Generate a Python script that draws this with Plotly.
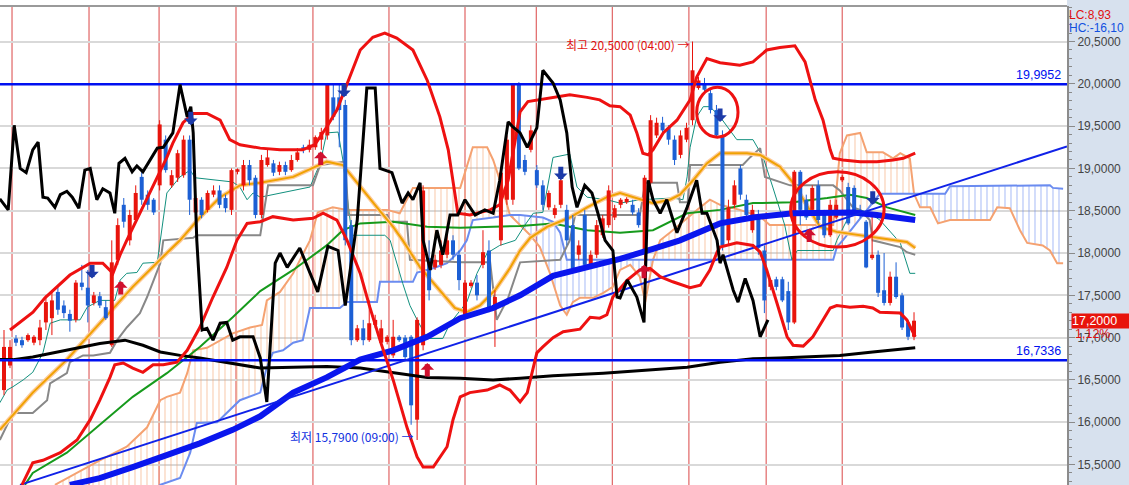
import plotly.graph_objects as go

# ---------------- candle data (index 0..152) ----------------
opens = [16.38, 16.67, 16.99, 16.97, 16.97, 16.94, 16.97, 17.18, 17.23, 17.54,
         17.38, 17.28, 17.21, 17.65, 17.59, 17.41, 17.49, 17.36, 16.91, 17.92,
         18.57, 18.15, 18.39, 18.90, 18.69, 18.63, 18.80, 19.34, 18.80, 18.89,
         18.92, 19.34, 18.48, 18.63, 18.51, 18.69, 18.74, 18.65, 18.51, 18.96,
         18.80, 19.04, 18.89, 18.45, 19.04, 19.06, 18.96, 19.04, 18.98, 19.10,
         19.25, 19.22, 19.25, 19.34, 19.39, 19.84, 19.84, 19.75, 18.33, 16.97,
         17.11, 16.97, 17.15, 16.94, 16.95, 16.79, 17.01, 17.00, 17.01, 16.03,
         16.91, 17.94, 17.83, 17.86, 17.98, 18.15, 17.98, 17.27, 17.61, 17.65,
         17.86, 18.03, 17.33, 18.15, 18.63, 18.63, 20.00, 19.10, 19.22, 18.98,
         18.80, 18.54, 18.45, 18.57, 18.51, 18.33, 17.98, 18.45, 17.86, 17.98,
         18.21, 18.33, 18.42, 18.57, 18.60, 18.57, 18.48, 18.03, 18.83, 19.39,
         19.54, 19.48, 19.34, 19.16, 19.34, 19.57, 19.95, 19.99, 19.89, 19.69,
         19.39, 18.15, 18.57, 19.00, 18.63, 18.27, 18.45, 18.03, 17.60, 17.69,
         17.69, 17.55, 17.18, 18.96, 18.63, 18.51, 18.80, 18.48, 18.21, 18.42,
         18.86, 18.78, 18.77, 18.51, 18.37, 17.94, 17.98, 17.56, 17.41, 17.72,
         17.50, 17.18, 17.01]
closes = [16.89, 16.89, 16.94, 16.91, 17.03, 17.01, 17.12, 17.42, 17.44, 17.33,
          17.29, 17.20, 17.65, 17.60, 17.38, 17.50, 17.38, 17.23, 17.89, 18.33,
          18.37, 18.45, 18.71, 18.63, 18.57, 18.48, 19.52, 18.98, 18.92, 19.18,
          19.34, 18.63, 18.65, 18.45, 18.71, 18.74, 18.57, 18.53, 18.98, 18.99,
          19.04, 18.86, 18.45, 19.10, 19.13, 18.95, 19.04, 18.96, 19.10, 19.19,
          19.22, 19.28, 19.37, 19.43, 19.99, 19.61, 19.69, 18.15, 16.97, 17.11,
          16.97, 17.17, 17.21, 17.11, 17.01, 17.01, 16.97, 16.77, 16.20, 17.21,
          18.74, 17.56, 17.92, 18.03, 18.15, 17.98, 17.68, 17.65, 17.65, 17.50,
          18.01, 17.36, 17.48, 18.95, 19.34, 19.99, 19.00, 18.96, 19.45, 18.80,
          18.57, 18.71, 18.53, 18.86, 18.15, 17.82, 18.09, 17.86, 17.98, 18.33,
          18.41, 18.74, 18.53, 18.63, 18.64, 18.48, 18.33, 18.89, 19.57, 19.54,
          19.45, 19.34, 19.10, 19.39, 19.48, 20.16, 20.04, 19.93, 19.69, 19.39,
          18.09, 18.54, 18.80, 18.69, 18.45, 18.51, 18.06, 17.44, 17.68, 17.60,
          17.44, 17.18, 18.96, 18.51, 18.42, 18.77, 18.39, 18.21, 18.57, 18.57,
          18.90, 18.35, 18.47, 18.45, 17.83, 17.98, 17.53, 17.41, 17.72, 17.48,
          17.12, 17.01, 17.20]
highs = [17.09, 16.97, 17.03, 17.01, 17.05, 17.03, 17.21, 17.50, 17.56, 17.62,
         17.44, 17.33, 17.68, 17.86, 17.80, 17.54, 17.54, 17.44, 18.15, 18.41,
         18.65, 18.51, 18.80, 18.96, 18.74, 18.65, 19.57, 19.39, 18.98, 19.22,
         19.39, 19.39, 18.69, 18.66, 18.74, 18.80, 18.80, 18.69, 19.00, 19.00,
         19.10, 19.10, 18.92, 19.16, 19.22, 19.10, 19.08, 19.08, 19.16, 19.24,
         19.28, 19.34, 19.39, 19.48, 20.01, 19.99, 19.99, 19.81, 18.39, 17.15,
         17.21, 17.44, 17.27, 17.21, 17.03, 17.21, 17.03, 17.03, 17.03, 17.24,
         18.80, 18.15, 17.98, 18.15, 18.27, 18.21, 18.03, 17.68, 17.68, 17.74,
         18.27, 18.15, 17.56, 18.98, 19.39, 20.00, 20.02, 19.16, 19.51, 19.04,
         18.86, 18.74, 18.57, 18.92, 18.57, 18.45, 18.15, 18.51, 18.03, 18.39,
         18.45, 18.80, 18.57, 18.65, 18.66, 18.63, 18.53, 18.92, 19.63, 19.60,
         19.61, 19.51, 19.39, 19.45, 19.54, 20.50, 20.08, 20.07, 19.93, 19.75,
         19.45, 18.63, 18.86, 19.04, 18.69, 18.57, 18.51, 18.09, 17.70, 17.72,
         17.72, 17.66, 18.98, 18.98, 18.69, 18.80, 18.86, 18.51, 18.63, 18.63,
         18.92, 18.83, 18.80, 18.57, 18.39, 18.48, 18.03, 18.00, 17.78, 17.89,
         17.53, 17.21, 17.30]
lows = [16.32, 16.64, 16.90, 16.88, 16.95, 16.91, 16.91, 17.09, 17.03, 17.27,
        17.23, 17.07, 17.18, 17.56, 17.18, 17.38, 17.35, 17.21, 16.89, 17.86,
        18.30, 18.09, 18.37, 18.57, 18.51, 18.45, 18.74, 18.95, 18.77, 18.84,
        18.89, 18.45, 18.45, 18.41, 18.48, 18.66, 18.53, 18.48, 18.45, 18.93,
        18.74, 18.80, 18.41, 18.41, 19.02, 18.91, 18.92, 18.92, 18.96, 19.08,
        19.18, 19.19, 19.22, 19.22, 19.34, 19.57, 19.25, 18.09, 16.91, 16.95,
        16.91, 16.95, 17.11, 16.91, 16.92, 16.76, 16.95, 16.74, 15.97, 15.79,
        16.85, 17.44, 17.80, 17.82, 17.94, 17.92, 17.56, 17.23, 17.59, 17.44,
        17.82, 17.30, 16.89, 18.09, 18.57, 18.57, 18.98, 18.92, 19.19, 18.77,
        18.51, 18.51, 18.41, 18.53, 18.09, 17.80, 17.92, 17.82, 17.82, 17.94,
        18.18, 18.30, 18.39, 18.53, 18.58, 18.45, 18.30, 17.86, 18.80, 19.36,
        19.42, 19.28, 19.04, 19.12, 19.31, 19.51, 19.93, 19.90, 19.65, 19.36,
        18.03, 18.09, 18.53, 18.63, 18.39, 18.24, 17.98, 17.29, 17.56, 17.56,
        17.42, 17.09, 17.16, 18.33, 18.39, 18.48, 18.35, 18.18, 18.19, 18.40,
        18.84, 18.33, 18.45, 18.41, 17.82, 17.92, 17.48, 17.38, 17.38, 17.46,
        17.09, 16.97, 16.97]

# ---------------- indicator lines (x = bar index, y = price) ----------------
bb_up_x = [1.0, 2.67, 4.84, 6.85, 8.85, 11.0, 14.4, 16.5, 18.2, 19.4, 20.5, 22.7, 24.9, 27.2, 28.2, 29.9,
           31.6, 33.9, 36.1, 37.7, 39.4, 42.8, 46.1, 49.9, 51.9, 53.9, 55.6, 57.3, 59.5, 61.6, 63.6, 65.6,
           68.3, 70.7, 72.8, 74.2, 75.0, 75.8, 77.8, 81.2, 82.8, 84.2, 85.4, 86.2, 87.5, 91.7, 94.5, 97.4,
           99.5, 101.2, 102.9, 104.6, 105.7, 106.7, 107.6, 108.4, 110.1, 112.4, 114.6, 115.7, 117.4, 119.6,
           122.9, 125.1, 127.4, 129.6, 132.1, 133.8, 135.5, 136.8, 138.0, 138.5, 140.1, 143.0, 145.8, 148.5,
           150.2, 152.2]
bb_up_y = [17.09, 17.18, 17.30, 17.47, 17.60, 17.74, 17.88, 17.88, 17.76, 17.98, 18.15, 18.47, 18.78, 19.13,
           19.30, 19.54, 19.65, 19.65, 19.57, 19.34, 19.28, 19.24, 19.22, 19.22, 19.28, 19.49, 19.69, 20.01,
           20.40, 20.55, 20.60, 20.54, 20.40, 20.04, 19.61, 19.22, 18.83, 18.47, 18.45, 18.51, 18.57, 18.86,
           19.34, 19.67, 19.79, 19.84, 19.87, 19.84, 19.81, 19.74, 19.73, 19.63, 19.42, 19.18, 19.16, 19.22,
           19.42, 19.57, 19.81, 20.08, 20.30, 20.25, 20.22, 20.26, 20.40, 20.43, 20.45, 20.26, 19.81, 19.57,
           19.22, 19.12, 19.10, 19.08, 19.08, 19.10, 19.12, 19.18]

bb_lo_x = [3.0, 4.8, 6.5, 9.4, 12.2, 14.4, 16.0, 17.7, 18.5, 19.9, 21.5, 23.2, 24.9, 26.6, 28.9, 30.6, 32.7,
           34.9, 37.2, 38.9, 40.6, 42.8, 44.9, 48.3, 51.6, 53.3, 55.6, 57.3, 59.5, 61.1, 62.8, 65.0, 67.3,
           69.0, 70.0, 71.7, 74.0, 75.0, 76.2, 77.8, 80.7, 82.8, 84.5, 86.2, 87.4, 89.0, 90.0, 91.7, 93.4,
           96.2, 97.9, 99.5, 100.7, 101.7, 104.1, 106.2, 107.9, 109.6, 111.7, 114.6, 116.3, 117.9, 119.1,
           119.6, 122.4, 125.1, 126.3, 127.4, 129.1, 130.8, 131.8, 133.5, 135.1, 138.0, 139.1, 141.3, 143.5,
           145.1, 146.3, 149.7, 150.8, 152.2]
bb_lo_y = [15.26, 15.52, 15.55, 15.64, 15.79, 16.03, 16.26, 16.53, 16.68, 16.70, 16.64, 16.59, 16.68, 16.68,
           16.71, 16.85, 17.12, 17.48, 17.83, 18.15, 18.35, 18.37, 18.43, 18.39, 18.41, 18.47, 18.39, 18.15,
           17.76, 17.36, 16.97, 16.50, 15.94, 15.59, 15.47, 15.47, 15.71, 16.03, 16.30, 16.35, 16.38, 16.44,
           16.38, 16.24, 16.35, 16.82, 16.89, 17.00, 17.07, 17.10, 17.24, 17.23, 17.27, 17.48, 17.68, 17.80,
           17.82, 17.72, 17.66, 17.59, 17.62, 17.80, 18.01, 18.07, 18.12, 18.09, 18.01, 17.80, 17.41, 17.01,
           16.91, 16.90, 17.01, 17.35, 17.38, 17.36, 17.37, 17.35, 17.30, 17.29, 17.21, 17.01]

osc_x = [-0.7, 0.7, 1.7, 2.7, 3.7, 4.8, 5.7, 6.5, 7.3, 8.5, 9.4, 10.5, 11.4, 12.5, 13.5, 14.4, 15.5, 16.5,
         17.7, 18.5, 19.2, 20.2, 21.4, 22.2, 23.2, 25.6, 26.6, 28.2, 29.4, 30.6, 31.2, 31.6, 32.2, 33.1,
         33.9, 34.9, 36.1, 37.2, 38.2, 39.4, 41.6, 42.8, 43.9, 45.3, 46.1, 47.3, 49.4, 52.4, 54.1, 55.8,
         57.0, 59.0, 60.6, 62.0, 62.8, 64.8, 66.5, 67.5, 68.3, 69.5, 70.0, 71.2, 72.3, 73.3, 74.5, 75.8,
         77.0, 78.7, 80.3, 81.7, 82.8, 84.2, 85.0, 86.2, 87.4, 89.0, 90.0, 91.7, 92.9, 94.0, 94.9, 95.7,
         97.0, 98.2, 99.2, 100.4, 101.7, 102.4, 102.9, 104.1, 105.7, 106.9, 107.6, 108.4, 109.6, 110.7,
         112.4, 114.1, 115.7, 116.6, 117.4, 119.1, 119.6, 120.1, 121.8, 122.6, 123.8, 125.1, 126.3, 127.6]
osc_y = [18.64, 18.51, 19.51, 19.00, 18.95, 19.22, 19.31, 18.66, 18.65, 18.54, 18.69, 18.73, 18.66, 18.53,
         18.98, 19.00, 18.63, 18.76, 18.71, 18.47, 19.06, 19.12, 18.96, 19.03, 18.96, 19.24, 19.25, 19.42,
         19.99, 19.61, 19.73, 19.42, 18.15, 17.09, 17.11, 16.97, 17.17, 17.18, 16.97, 17.01, 17.01, 16.76,
         16.24, 17.88, 18.00, 17.83, 18.06, 17.54, 18.08, 18.03, 17.38, 18.39, 19.95, 19.95, 19.00, 18.95,
         18.59, 18.71, 18.63, 18.83, 18.15, 17.80, 18.27, 17.98, 18.45, 18.45, 18.63, 18.45, 18.51, 18.47,
         18.86, 19.55, 19.49, 19.42, 19.25, 19.48, 20.16, 20.01, 19.81, 19.42, 18.78, 18.54, 18.80, 18.71,
         18.47, 18.15, 18.03, 17.48, 17.47, 17.68, 17.48, 17.18, 18.86, 18.63, 18.47, 18.63, 18.24, 18.54,
         18.86, 18.47, 18.47, 18.15, 17.88, 17.98, 17.56, 17.42, 17.70, 17.44, 17.01, 17.21]

ma_long_x = [-0.7, 1.5, 4.8, 10.5, 16.0, 20.2, 23.2, 26.1, 29.4, 32.7, 37.2, 42.8, 48.3, 53.9, 59.5, 65.0,
             68.3, 70.7, 76.2, 81.7, 86.2, 91.7, 100.1, 108.4, 114.1, 119.6, 125.1, 129.6, 134.1, 139.6,
             145.1, 152.2]
ma_long_y = [16.74, 16.74, 16.77, 16.85, 16.93, 16.97, 16.91, 16.83, 16.79, 16.76, 16.71, 16.64, 16.65, 16.66,
             16.64, 16.59, 16.56, 16.53, 16.52, 16.50, 16.52, 16.55, 16.58, 16.62, 16.65, 16.71, 16.75, 16.76,
             16.77, 16.79, 16.83, 16.88]

ma_blue_x = [11.0, 16.0, 21.5, 27.2, 32.7, 38.2, 42.8, 48.3, 53.9, 59.5, 65.0, 70.7, 76.2, 81.7, 86.2, 91.7,
             97.4, 102.9, 108.4, 112.9, 119.6, 125.1, 131.8, 137.5, 141.8, 145.8, 152.2]
ma_blue_y = [15.26, 15.34, 15.47, 15.61, 15.75, 15.91, 16.07, 16.35, 16.53, 16.74, 16.85, 17.01, 17.23, 17.35,
             17.50, 17.73, 17.83, 17.93, 18.05, 18.15, 18.35, 18.42, 18.47, 18.48, 18.48, 18.45, 18.39]

ma_green_x = [3.5, 4.8, 10.5, 16.0, 21.5, 27.2, 32.7, 38.2, 42.8, 48.3, 53.9, 56.6, 59.5, 65.0, 70.7, 76.2,
              81.7, 86.2, 91.7, 97.4, 102.9, 108.4, 114.1, 119.6, 125.1, 131.8, 137.5, 141.3, 144.1, 147.5, 152.2]
ma_green_y = [15.26, 15.40, 15.64, 15.97, 16.30, 16.58, 16.89, 17.24, 17.55, 17.80, 18.09, 18.27, 18.35, 18.37,
              18.31, 18.30, 18.31, 18.32, 18.35, 18.27, 18.24, 18.27, 18.47, 18.51, 18.59, 18.60, 18.65, 18.69,
              18.65, 18.54, 18.45]

ma_orange_x = [-0.7, 4.8, 10.5, 16.0, 21.5, 27.2, 29.4, 32.7, 36.1, 39.4, 42.8, 48.3, 53.9, 56.6, 59.5, 62.3,
               65.0, 66.6, 69.5, 72.8, 75.3, 77.3, 79.5, 82.0, 84.5, 86.2, 87.9, 90.7, 94.5, 97.4, 100.7, 102.9,
               105.7, 108.4, 111.2, 112.9, 115.1, 117.4, 119.6, 124.1, 126.3, 129.6, 131.8, 134.6, 136.3, 139.1,
               143.0, 148.5, 150.8, 152.2]
ma_orange_y = [15.91, 16.35, 16.74, 17.17, 17.60, 18.00, 18.15, 18.42, 18.66, 18.80, 18.83, 18.90, 19.08, 19.04,
               18.78, 18.54, 18.31, 18.15, 17.83, 17.56, 17.35, 17.30, 17.38, 17.56, 17.82, 18.03, 18.18, 18.31,
               18.42, 18.54, 18.66, 18.71, 18.65, 18.59, 18.63, 18.69, 18.86, 19.06, 19.18, 19.18, 19.16, 19.02,
               18.83, 18.51, 18.31, 18.25, 18.21, 18.15, 18.13, 18.06]

kijun_x = [-0.7, 1.5, 4.8, 7.2, 7.7, 9.4, 10.5, 11.0, 13.2, 14.9, 17.7, 18.9, 20.5, 22.7, 23.9, 26.1, 26.6,
           31.6, 32.2, 42.8, 44.1, 51.6, 52.8, 57.0, 57.5, 64.0, 64.5, 67.3, 67.8, 76.2, 81.2, 82.3, 84.2,
           86.2, 92.9, 94.5, 95.4, 106.2, 107.1, 112.4, 112.9, 114.2, 114.6, 123.4, 124.6, 126.3, 127.1,
           131.3, 138.5, 139.6, 141.8, 143.0, 144.6, 145.1, 149.7, 150.8, 152.2]
kijun_y = [15.79, 16.11, 16.11, 16.26, 16.46, 16.53, 16.58, 16.71, 16.79, 16.79, 16.82, 16.97, 17.12, 17.29,
           17.48, 17.88, 18.15, 18.18, 18.21, 18.21, 18.80, 18.80, 19.04, 19.08, 18.45, 18.45, 18.37, 18.37,
           17.92, 17.89, 17.89, 17.21, 17.47, 17.89, 17.92, 18.15, 18.45, 18.45, 18.83, 18.83, 18.60, 18.60,
           19.04, 19.04, 19.13, 19.24, 18.90, 18.80, 18.80, 18.74, 18.54, 18.51, 18.39, 18.15, 18.07, 18.01, 17.98]

tenkan_x = [-0.7, 0.5, 1.5, 3.2, 4.8, 5.5, 6.5, 7.7, 9.4, 12.7, 13.9, 16.0, 18.5, 19.4, 20.5, 22.2, 23.2, 25.6,
            26.1, 27.2, 29.4, 31.1, 31.9, 38.2, 39.4, 40.6, 41.6, 42.8, 51.1, 52.8, 53.9, 55.8, 56.6, 57.8,
            58.1, 63.6, 64.5, 66.6, 67.8, 69.0, 70.7, 73.3, 74.5, 77.3, 79.0, 80.7, 82.8, 85.4, 87.0, 88.4,
            90.0, 91.7, 94.5, 95.7, 97.4, 100.7, 102.9, 106.2, 111.7, 113.4, 114.1, 114.6, 115.7, 116.8, 117.9,
            119.6, 122.4, 125.1, 126.8, 128.4, 130.4, 131.6, 132.5, 138.5, 139.1, 140.8, 141.8, 143.0, 144.6,
            146.3, 149.7, 151.3, 152.2]
tenkan_y = [16.23, 16.38, 16.42, 16.50, 16.59, 16.68, 16.82, 17.17, 17.21, 17.21, 17.36, 17.44, 17.44, 17.68,
            17.76, 17.77, 17.88, 17.89, 18.15, 18.71, 18.90, 18.98, 18.89, 18.84, 18.78, 18.63, 18.71, 18.66,
            18.78, 19.06, 19.42, 19.43, 19.10, 18.42, 18.21, 18.21, 18.15, 17.64, 17.38, 17.21, 16.99, 16.99,
            17.17, 17.42, 17.76, 18.00, 18.09, 18.15, 18.33, 18.47, 18.48, 19.13, 19.17, 18.78, 18.66, 18.63,
            18.59, 18.63, 18.65, 18.63, 18.90, 19.25, 19.61, 19.73, 19.73, 19.61, 19.34, 19.34, 19.13, 18.78,
            18.33, 17.92, 18.03, 18.03, 18.15, 18.39, 18.51, 18.51, 18.47, 18.39, 18.12, 17.76, 17.76]

span_a_x = [8.5, 16.0, 20.5, 23.9, 26.1, 27.2, 29.4, 30.6, 31.6, 33.9, 38.2, 41.1, 43.1, 43.9, 46.1, 48.3,
            51.1, 52.4, 54.9, 57.3, 64.0, 66.1, 68.3, 76.2, 78.3, 80.7, 81.7, 83.2, 84.5, 87.9, 89.5, 91.2,
            92.9, 94.0, 95.0, 96.2, 98.4, 100.1, 101.7, 102.9, 104.6, 106.2, 107.1, 107.9, 108.4, 109.6, 111.2,
            116.3, 117.9, 119.6, 122.9, 126.3, 127.9, 131.3, 138.5, 139.6, 140.8, 143.0, 144.1, 146.8, 148.5,
            149.7, 151.3, 152.0, 153.0, 154.7, 156.0, 158.0, 164.7, 165.9, 168.0, 169.7, 170.9, 173.5, 174.7,
            175.9, 176.9]
span_a_y = [15.26, 15.55, 15.71, 15.94, 16.26, 16.30, 16.35, 16.58, 16.85, 16.88, 17.05, 17.12, 17.15, 17.44,
            17.54, 17.76, 18.15, 18.48, 18.54, 18.51, 18.51, 18.47, 18.77, 18.77, 19.25, 19.25, 19.10, 18.78,
            18.45, 18.21, 18.07, 17.76, 17.38, 17.27, 17.42, 17.47, 17.47, 17.53, 17.60, 17.80, 17.86, 17.72,
            17.42, 17.76, 17.92, 18.15, 18.24, 18.54, 18.63, 18.57, 18.51, 18.43, 18.33, 18.33, 18.33, 19.18,
            19.39, 19.42, 19.19, 19.19, 19.12, 19.18, 19.12, 18.70, 18.54, 18.54, 18.35, 18.39, 18.39, 18.54,
            18.53, 18.27, 18.12, 18.09, 18.03, 17.88, 17.88]
span_b_x = [8.5, 25.2, 26.1, 29.4, 31.1, 32.2, 35.6, 37.7, 39.4, 42.8, 43.9, 44.9, 46.6, 48.3, 49.9, 51.1,
            56.1, 57.3, 62.3, 62.8, 68.3, 69.0, 71.7, 74.0, 76.2, 77.3, 78.3, 81.7, 84.5, 86.2, 90.0, 91.7,
            92.9, 94.0, 108.4, 138.5, 139.1, 140.1, 145.5, 146.3, 152.0, 157.2, 158.0, 174.7, 175.2, 176.9]
span_b_y = [15.00, 15.00, 15.26, 15.34, 15.64, 15.99, 16.00, 16.14, 16.26, 16.35, 16.65, 16.82, 16.85, 16.94,
            16.97, 17.35, 17.35, 17.42, 17.42, 17.66, 17.66, 17.77, 17.82, 17.88, 18.03, 18.15, 18.39, 18.42,
            18.45, 18.45, 18.42, 18.37, 18.24, 17.92, 17.92, 17.92, 18.07, 18.15, 18.63, 18.70, 18.70, 18.70,
            18.79, 18.80, 18.77, 18.76]
cloud_cross = [8.5, 84.5, 108.4, 152.0, 176.9]          # where span A and span B swap
cloud_kind = ["up", "down", "up", "down"]

# levels, trend line, signals, marks
level_lines = [19.9952, 16.7336]
trend_x = [2.67, 177.55]
trend_y = [15.26, 19.26]
day_breaks = [1.34, 14.2, 25.9, 38.75, 51.6, 64.3, 77.0, 88.9, 101.6, 114.4, 127.3, 140.0]
sig_dn_x = [14.7, 31.2, 56.8, 93.0, 119.6, 145.1]
sig_dn_y = [17.70, 19.51, 19.84, 18.86, 19.55, 18.57]
sig_up_x = [19.5, 52.9, 70.7, 106.9, 134.5]
sig_up_y = [17.67, 19.20, 16.70, 17.86, 18.29]
ell_x0 = [115.7, 131.4]
ell_x1 = [122.6, 147.0]
ell_y0 = [19.37, 18.07]
ell_y1 = [19.96, 18.96]
high_time = "04:00"
low_time = "09:00"
lc_text = "LC:8,93"
hc_text = "HC:-16,10"
chg_text = "1,12%"

X_RANGE = [-0.67, 177.55]
Y_RANGE = [15.258, 20.92]

def fmt(v):
    return f"{v:.4f}".replace(".", ",")

def seg(xs, ys, lo, hi):
    pts = [(a, b) for a, b in zip(xs, ys) if lo - 1e-9 <= a <= hi + 1e-9]
    return [p[0] for p in pts], [p[1] for p in pts]

fig = go.Figure()

def line(xs, ys, color, width, dash=None):
    n = min(len(xs), len(ys))
    fig.add_trace(go.Scatter(x=xs[:n], y=ys[:n], mode="lines", hoverinfo="skip", showlegend=False,
                             line=dict(color=color, width=width, dash=dash)))

# cloud hatching
HATCH = {"up": "#f3a36f", "down": "#6b8cf0"}
for k in range(len(cloud_kind)):
    lo, hi = cloud_cross[k], cloud_cross[k + 1]
    bx, by = seg(span_b_x, span_b_y, lo, hi)
    ax_, ay_ = seg(span_a_x, span_a_y, lo, hi)
    fig.add_trace(go.Scatter(x=bx, y=by, mode="lines", line=dict(width=0), hoverinfo="skip", showlegend=False))
    fig.add_trace(go.Scatter(x=ax_, y=ay_, mode="lines", line=dict(width=0), hoverinfo="skip", showlegend=False,
                             fill="tonexty", fillcolor="rgba(0,0,0,0)",
                             fillpattern=dict(shape="|", size=6, solidity=0.2, fgcolor=HATCH[cloud_kind[k]],
                                              bgcolor="rgba(0,0,0,0)")))
line(span_a_x, span_a_y, "#f5a271", 2)
line(span_b_x, span_b_y, "#6b8cf0", 2)

line(tenkan_x, tenkan_y, "#12907e", 1)
line(kijun_x, kijun_y, "#888888", 2)
line(ma_green_x, ma_green_y, "#169a1c", 2)
line(ma_orange_x, ma_orange_y, "#fdcb9c", 4.5)
line(ma_orange_x, ma_orange_y, "#f0a202", 2)

# candles
N = min(len(opens), len(closes), len(highs), len(lows))
for up, col in ((True, "#e8140c"), (False, "#1c5fd4")):
    wx, wy, bxs, bys = [], [], [], []
    for i in range(N):
        if (closes[i] >= opens[i]) != up:
            continue
        wx += [i, i, None]
        wy += [lows[i], highs[i], None]
        bxs += [i, i, None]
        bys += [opens[i], closes[i], None]
    fig.add_trace(go.Scatter(x=wx, y=wy, mode="lines", line=dict(color=col, width=1),
                             hoverinfo="skip", showlegend=False, connectgaps=False))
    fig.add_trace(go.Scatter(x=bxs, y=bys, mode="lines", line=dict(color=col, width=4),
                             hoverinfo="skip", showlegend=False, connectgaps=False))

line(ma_long_x, ma_long_y, "#000000", 3)
line(ma_blue_x, ma_blue_y, "#0a16ee", 6)
for lv in level_lines:
    line(X_RANGE, [lv, lv], "#0010f0", 2.5)
line(trend_x, trend_y, "#1022e8", 2)
line(bb_up_x, bb_up_y, "#ee1111", 3)
line(bb_lo_x, bb_lo_y, "#ee1111", 3)
line(osc_x, osc_y, "#000000", 3)

shapes = []
for d in day_breaks:
    shapes.append(dict(type="line", xref="x", yref="paper", x0=d, x1=d, y0=0, y1=1,
                       line=dict(color="rgba(214,50,50,0.9)", width=1), layer="below"))
# right axis panel background
shapes.append(dict(type="rect", xref="paper", yref="paper", x0=1.0, x1=1129 / 1067, y0=-0.01, y1=485 / 479 + 0.01,
                   fillcolor="#d7e1ee", line=dict(width=0), layer="below"))
shapes.append(dict(type="line", xref="paper", yref="paper", x0=0, x1=1, y0=1, y1=1,
                   line=dict(color="#9a9a9a", width=2)))
for k in range(len(ell_x0)):
    shapes.append(dict(type="circle", xref="x", yref="y", x0=ell_x0[k], x1=ell_x1[k], y0=ell_y0[k], y1=ell_y1[k],
                       line=dict(color="#ee1111", width=3)))

AX_FONT = "Liberation Sans, Arial, sans-serif"
KR = "Noto Sans CJK KR, sans-serif"
anns = []
for x, y in zip(sig_dn_x, sig_dn_y):
    anns.append(dict(x=x, y=y, xref="x", yref="y", ax=0, ay=-15, text="", showarrow=True,
                     arrowhead=1, arrowsize=0.45, arrowwidth=5, arrowcolor="#1c3aa8", standoff=0))
for x, y in zip(sig_up_x, sig_up_y):
    anns.append(dict(x=x, y=y, xref="x", yref="y", ax=0, ay=15, text="", showarrow=True,
                     arrowhead=1, arrowsize=0.45, arrowwidth=5, arrowcolor="#d0102e", standoff=0))

hi_i = max(range(N), key=lambda i: highs[i])
lo_i = min(range(N), key=lambda i: lows[i])
anns.append(dict(x=hi_i, y=highs[hi_i], xref="x", yref="y", xanchor="right", yanchor="middle", xshift=-1, yshift=-3,
                 showarrow=False, text=f"최고 {fmt(highs[hi_i])} ({high_time}) →",
                 font=dict(family=KR, size=12, color="#e01010")))
anns.append(dict(x=lo_i, y=lows[lo_i], xref="x", yref="y", xanchor="right", yanchor="middle", xshift=-1, yshift=3,
                 showarrow=False, text=f"최저 {fmt(lows[lo_i])} ({low_time}) →",
                 font=dict(family=KR, size=12, color="#1030e0")))
for lv in level_lines:
    anns.append(dict(x=X_RANGE[1] - 0.6, y=lv, xref="x", yref="y", xanchor="right", yanchor="bottom", yshift=0,
                     showarrow=False, text=fmt(lv), font=dict(family=AX_FONT, size=12.5, color="#0010f0")))
anns.append(dict(x=1, y=(485 - 15) / 479, xref="paper", yref="paper", xanchor="left", yanchor="middle", xshift=0,
                 showarrow=False, text=lc_text, font=dict(family=AX_FONT, size=12, color="#e01010")))
anns.append(dict(x=1, y=(485 - 28) / 479, xref="paper", yref="paper", xanchor="left", yanchor="middle", xshift=0,
                 showarrow=False, text=hc_text, font=dict(family=AX_FONT, size=12, color="#1050e0")))
anns.append(dict(x=1, y=closes[N - 1], xref="paper", yref="y", xanchor="left", yanchor="middle", xshift=4,
                 showarrow=False, text=fmt(closes[N - 1]), bgcolor="#e8140c", borderpad=0, width=58, align="left",
                 font=dict(family=AX_FONT, size=12.5, color="white")))
anns.append(dict(x=1, y=closes[N - 1], xref="paper", yref="y", xanchor="left", yanchor="middle", xshift=6,
                 yshift=-13, showarrow=False, text=chg_text,
                 font=dict(family=AX_FONT, size=12.5, color="#e01010")))

fig.update_layout(
    width=1129, height=485, margin=dict(l=0, r=62, t=6, b=0),
    paper_bgcolor="white", plot_bgcolor="white", showlegend=False,
    separators=",.",
    xaxis=dict(range=X_RANGE, visible=False, fixedrange=True),
    yaxis=dict(range=Y_RANGE, side="right", dtick=0.5, tick0=15.5, tickformat=".4f",
               ticks="outside", ticklen=6, tickcolor="#8a8a8a", tickwidth=1,
               showgrid=True, gridcolor="#d9d9d9", gridwidth=1.5, zeroline=False,
               showline=True, linecolor="#8c8c8c", linewidth=2,
               tickfont=dict(family=AX_FONT, size=12, color="#444444"),
               minor=dict(dtick=0.1, tick0=15.5, ticks="outside", ticklen=3, tickcolor="#8a8a8a", showgrid=False)),
    shapes=shapes, annotations=anns,
)

fig.write_html("out.html", config={"displayModeBar": False},
               post_script="document.body.style.margin='0';document.body.style.overflow='hidden';")
